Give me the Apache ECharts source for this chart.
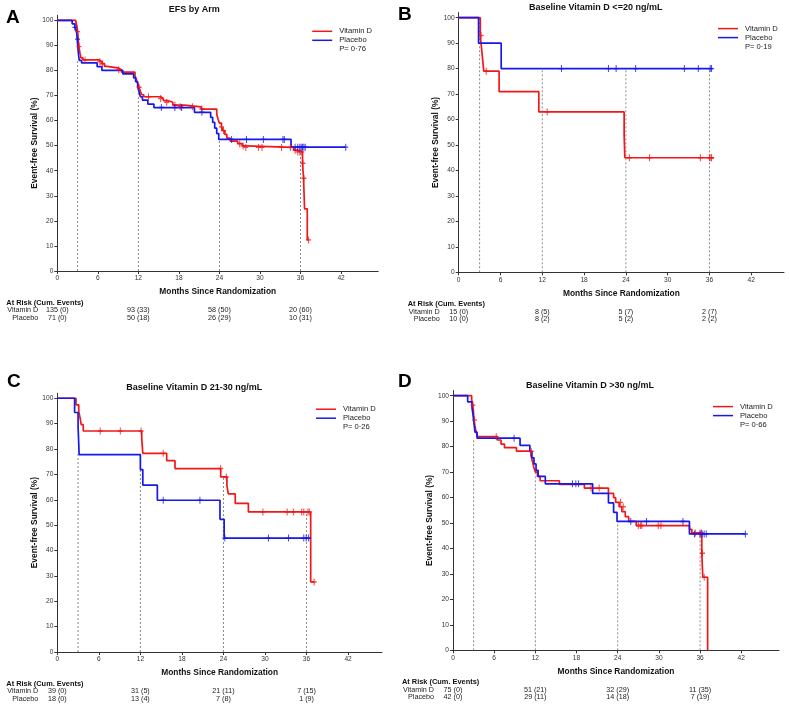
<!DOCTYPE html>
<html><head><meta charset="utf-8">
<script src="https://cdn.jsdelivr.net/npm/echarts@6/dist/echarts.min.js"></script>
<style>html,body{margin:0;padding:0;background:#fff}#c{width:789px;height:705px}</style>
</head><body><div id="c"></div>
<script>
// ---------- shared labels ----------
const monthTicks = [0, 6, 12, 18, 24, 30, 36, 42];
const survTicks = [0, 10, 20, 30, 40, 50, 60, 70, 80, 90, 100];
const atRiskMonths = [0, 12, 24, 36];
const panelLetters = ['A', 'B', 'C', 'D'];
const panelTitles = ['EFS by Arm', 'Baseline Vitamin D <=20 ng/mL', 'Baseline Vitamin D 21-30 ng/mL', 'Baseline Vitamin D >30 ng/mL'];
const pValues = ['P= 0·76', 'P= 0·19', 'P= 0·26', 'P= 0·66'];
const armNames = ['Vitamin D', 'Placebo'];

// ---------- Panel A ----------
const aVitD = [[0,100],[2.7,99.3],[2.9,97.8],[3.0,95.5],[3.1,92.5],[3.2,89.5],[3.35,87],[3.5,85],[3.8,84.2],[6.2,83.5],[6.6,82.7],[7.0,81.6],[7.4,80.9],[9.1,80.3],[9.5,79.3],[11.5,78],[11.7,76.4],[11.9,74.8],[12.1,73.3],[12.3,71.7],[12.5,70.3],[12.8,69.5],[15.3,68.8],[15.7,68],[16.3,67.3],[17.1,66.2],[18.8,65.5],[21.3,64.6],[23.6,62.5],[23.8,60.5],[24.0,59],[24.3,57.5],[24.5,56],[24.8,54.5],[25.1,53],[25.6,51.8],[26.7,50.8],[27.4,49.9],[27.8,49.3],[35.0,48.2],[35.4,47.5],[36.3,43],[36.45,37],[36.6,24.8],[37.0,12.4],[37.2,12.4]];
const aVitDCens = [[3.0,95.5],[3.2,89.5],[4.1,84.2],[6.3,83.5],[6.7,82.7],[9.1,80.3],[12.1,73.3],[13.5,69.5],[15.3,68.8],[16.2,67.3],[17.4,66.2],[18.2,65.5],[20.0,65.5],[21.4,64.6],[24.3,57.5],[24.6,56],[27.0,50.8],[27.5,49.9],[27.9,49.3],[29.8,49.3],[30.3,49.3],[33.2,49.3],[34.5,49.3],[35.2,48.2],[35.6,47.5],[35.9,47.5],[36.2,47.5],[36.35,43],[36.5,37],[37.2,12.4]];
const aPlac = [[0,100],[2.2,98.6],[2.6,97.2],[2.85,95.7],[2.95,92.5],[3.05,89],[3.15,86],[3.25,84],[3.6,83],[5.9,81.5],[6.6,80],[9.7,78.6],[11.3,77],[11.6,75.5],[11.9,73.5],[12.1,71.5],[12.3,69.5],[12.6,68.2],[13.4,66.6],[14.3,65.2],[20.3,63.3],[22.7,61.3],[23.0,59.3],[23.3,57],[23.6,54.8],[23.9,52.5],[34.6,49.4],[42.7,49.4]];
const aPlacCens = [[2.6,97.2],[3.0,92.5],[15.4,65.2],[17.4,65.2],[18.4,65.2],[21.4,63.3],[25.8,52.5],[28.0,52.5],[30.5,52.5],[33.4,52.5],[33.6,52.5],[35.2,49.4],[35.6,49.4],[35.9,49.4],[36.1,49.4],[36.3,49.4],[36.5,49.4],[36.7,49.4],[42.7,49.4]];
const aRefs = [[3,84],[12,73],[24,52.5],[36,47.5]];
const aRiskVitD = ['135 (0)', '93 (33)', '58 (50)', '20 (60)'];
const aRiskPlac = ['71 (0)', '50 (18)', '26 (29)', '10 (31)'];

// ---------- Panel B ----------
const bVitD = [[0,100],[3.1,93],[3.35,86],[3.6,79],[5.8,71],[11.5,63],[23.75,54],[23.85,45],[36.6,45]];
const bVitDCens = [[3.2,93],[3.95,79],[12.7,63],[24.5,45],[27.4,45],[34.7,45],[36.0,45],[36.2,45],[36.3,45]];
const bPlac = [[0,100],[2.85,90],[6.1,80],[36.4,80]];
const bPlacCens = [[14.75,80],[21.5,80],[22.6,80],[25.4,80],[32.4,80],[34.4,80],[36.1,80],[36.3,80]];
const bRefs = [[3,100],[12,80],[24,80],[36,80]];
const bRiskVitD = ['15 (0)', '8 (5)', '5 (7)', '2 (7)'];
const bRiskPlac = ['10 (0)', '8 (2)', '5 (2)', '2 (2)'];

// ---------- Panel C ----------
const cVitD = [[0,100],[2.7,97.4],[3.1,94.8],[3.3,92.2],[3.45,89.6],[3.75,87.1],[12.2,84],[12.35,78.3],[15.8,75.4],[17.0,72.3],[23.6,69],[24.5,65.6],[24.7,62.3],[25.7,58.6],[27.6,55.2],[36.6,27.6],[37.1,27.6]];
const cVitDCens = [[6.2,87.1],[9.1,87.1],[12.1,87.1],[15.3,78.3],[23.6,72.3],[24.4,69],[29.7,55.2],[33.2,55.2],[34.1,55.2],[35.3,55.2],[35.6,55.2],[36.2,55.2],[36.4,55.2],[37.1,27.6]];
const cPlac = [[0,100],[2.5,94.4],[3.0,88.9],[3.08,83.3],[3.15,77.8],[12.0,71.9],[12.35,65.8],[14.45,59.8],[23.5,52.3],[24.1,44.9],[36.5,44.9]];
const cPlacCens = [[15.3,59.8],[20.6,59.8],[24.2,44.9],[30.5,44.9],[33.4,44.9],[35.6,44.9],[35.95,44.9],[36.3,44.9]];
const cRefs = [[3,78],[12,78],[24,69],[36,55.2]];
const cRiskVitD = ['39 (0)', '31 (5)', '21 (11)', '7 (15)'];
const cRiskPlac = ['18 (0)', '13 (4)', '7 (8)', '1 (9)'];

// ---------- Panel D ----------
const dVitD = [[0,100],[2.72,98.3],[2.87,96.3],[2.96,94.4],[3.06,90.4],[3.2,88.1],[3.35,85.9],[3.6,83.9],[6.45,82.6],[7.0,81.0],[7.5,79.6],[9.25,78.2],[11.35,76.6],[11.5,75],[11.65,73.3],[11.8,71.6],[12.0,70],[12.3,68.3],[12.7,66.6],[15.5,65.2],[19.15,63.7],[22.65,61.6],[23.4,60],[23.7,58.1],[24.2,56.4],[24.6,54.5],[25.1,52.5],[25.6,50.6],[26.7,49],[34.45,47.5],[34.8,46.1],[36.25,38.1],[36.4,28.7],[37.1,0]];
const dVitDCens = [[2.9,96.3],[3.15,90.4],[6.3,83.9],[11.4,78.2],[20.1,63.7],[21.3,63.7],[24.4,58.1],[24.8,56.4],[27.0,49],[27.3,49],[27.5,49],[29.9,49],[30.3,49],[35.3,46.1],[36.0,46.1],[36.2,46.1],[36.35,38.1],[36.6,28.7]];
const dPlac = [[0,100],[2.14,97.6],[2.77,95.2],[2.9,92.9],[3.0,90.5],[3.1,88.1],[3.2,85.7],[3.5,83.3],[9.77,80.5],[11.2,78.1],[11.5,75.6],[11.8,73.2],[12.1,70.7],[12.4,68.3],[13.45,65.4],[20.35,61.6],[22.65,57.9],[23.4,54.2],[23.9,50.6],[34.45,45.7],[42.6,45.7]];
const dPlacCens = [[8.9,83.3],[17.4,65.4],[17.9,65.4],[18.3,65.4],[25.9,50.6],[28.2,50.6],[33.5,50.6],[35.2,45.7],[36.0,45.7],[36.3,45.7],[36.6,45.7],[36.9,45.7],[42.6,45.7]];
const dRefs = [[3,83.4],[12,70],[24,50.6],[36,46]];
const dRiskVitD = ['75 (0)', '51 (21)', '32 (29)', '11 (35)'];
const dRiskPlac = ['42 (0)', '29 (11)', '14 (18)', '7 (19)'];

// ---------- assembly ----------
const panels = [
  { vit: aVitD, vitC: aVitDCens, pla: aPlac, plaC: aPlacCens, refs: aRefs, rv: aRiskVitD, rp: aRiskPlac },
  { vit: bVitD, vitC: bVitDCens, pla: bPlac, plaC: bPlacCens, refs: bRefs, rv: bRiskVitD, rp: bRiskPlac },
  { vit: cVitD, vitC: cVitDCens, pla: cPlac, plaC: cPlacCens, refs: cRefs, rv: cRiskVitD, rp: cRiskPlac },
  { vit: dVitD, vitC: dVitDCens, pla: dPlac, plaC: dPlacCens, refs: dRefs, rv: dRiskVitD, rp: dRiskPlac }
];
const layouts = [
  { left: 57.3, top: 15.3, width: 320.9, height: 255.7, xMax: 47.5 },
  { left: 458.7, top: 12.6, width: 325.3, height: 259.7, xMax: 46.7 },
  { left: 57.3, top: 393.2, width: 324.7, height: 258.8, xMax: 46.9 },
  { left: 453, top: 390.6, width: 326, height: 259.7, xMax: 47.5 }
];
const RED = '#f01818', BLUE = '#1818e8', FONT = 'Liberation Sans, Arial, sans-serif';
const plusSym = 'path://M4,0h2v10h-2zM0,4h10v2h-10z';

const grid = [], xAxis = [], yAxis = [], series = [];
layouts.forEach((L, i) => {
  grid.push({ left: L.left, top: L.top, width: L.width, height: L.height, containLabel: false });
  xAxis.push({
    type: 'value', gridIndex: i, min: 0, max: L.xMax,
    name: 'Months Since Randomization', nameLocation: 'middle', nameGap: 17,
    nameTextStyle: { fontFamily: FONT, fontWeight: 'bold', fontSize: 8.4, color: '#111' },
    axisLine: { lineStyle: { color: '#333', width: 1 } },
    axisTick: { length: 3, customValues: monthTicks, lineStyle: { color: '#333' } },
    axisLabel: { customValues: monthTicks, fontFamily: FONT, fontSize: 6.6, color: '#333', margin: 4 },
    splitLine: { show: false }
  });
  yAxis.push({
    type: 'value', gridIndex: i, min: 0, max: 102,
    name: 'Event-free Survival (%)', nameLocation: 'middle', nameGap: 18,
    nameTextStyle: { fontFamily: FONT, fontWeight: 'bold', fontSize: 8.4, color: '#111' },
    axisLine: { show: true, lineStyle: { color: '#333', width: 1 } },
    axisTick: { show: true, length: 3, customValues: survTicks, lineStyle: { color: '#333' } },
    axisLabel: { customValues: survTicks, fontFamily: FONT, fontSize: 6.6, color: '#333', margin: 4 },
    splitLine: { show: false }
  });
  const P = panels[i];
  P.refs.forEach(([m, v]) => {
    series.push({ type: 'line', xAxisIndex: i, yAxisIndex: i, data: [[m, 0], [m, v]], showSymbol: false, silent: true, z: 1,
      lineStyle: { color: '#8a8a8a', width: 1, type: [2, 2] } });
  });
  series.push({ name: armNames[0], type: 'line', step: 'end', xAxisIndex: i, yAxisIndex: i, data: P.vit, showSymbol: false, z: 2,
    lineStyle: { color: RED, width: 1.7 }, itemStyle: { color: RED } });
  series.push({ name: armNames[1], type: 'line', step: 'end', xAxisIndex: i, yAxisIndex: i, data: P.pla, showSymbol: false, z: 3,
    lineStyle: { color: BLUE, width: 1.7 }, itemStyle: { color: BLUE } });
  series.push({ name: armNames[0] + ' censored', type: 'scatter', xAxisIndex: i, yAxisIndex: i, data: P.vitC, symbol: plusSym, symbolSize: [5, 7], z: 4,
    itemStyle: { color: RED } });
  series.push({ name: armNames[1] + ' censored', type: 'scatter', xAxisIndex: i, yAxisIndex: i, data: P.plaC, symbol: plusSym, symbolSize: [5, 7], z: 5,
    itemStyle: { color: BLUE } });
});

const chart = echarts.init(document.getElementById('c'), null, { renderer: 'canvas' });
chart.setOption({ animation: false, backgroundColor: '#fff', grid, xAxis, yAxis, series });

// ---------- text, legend, at-risk table ----------
const graphic = [];
const txt = (x, y, text, o) => graphic.push({ type: 'text', x, y, silent: true,
  style: Object.assign({ text, fontFamily: FONT, fontSize: 7.2, fill: '#222', align: 'left', verticalAlign: 'middle' }, o || {}) });
const letterPos = [[6, 18], [398, 15], [7, 382], [398, 382]];
layouts.forEach((L, i) => {
  const right = L.left + L.width, bottom = L.top + L.height;
  txt(letterPos[i][0], letterPos[i][1], panelLetters[i], { fontSize: 19, fontWeight: 'bold', fill: '#000' });
  txt(L.left + 137, L.top - 5.5, panelTitles[i], { fontSize: 9, fontWeight: 'bold', fill: '#111', align: 'center' });
  // legend
  [RED, BLUE].forEach((c, k) => {
    const y = L.top + 16 + k * 9;
    graphic.push({ type: 'line', silent: true, shape: { x1: right - 66, y1: y, x2: right - 46, y2: y }, style: { stroke: c, lineWidth: 1.5 } });
    txt(right - 39, y, armNames[k], { fontSize: 7.6 });
  });
  txt(right - 39, L.top + 34, pValues[i], { fontSize: 7.6 });
  // at-risk table
  txt(L.left - 51, bottom + 31.5, 'At Risk (Cum. Events)', { fontSize: 7.4, fontWeight: 'bold', fill: '#111' });
  txt(L.left - 19, bottom + 39.3, armNames[0], { align: 'right' });
  txt(L.left - 19, bottom + 47, armNames[1], { align: 'right' });
  atRiskMonths.forEach((m, j) => {
    const px = chart.convertToPixel({ gridIndex: i }, [m, 0])[0];
    txt(px, bottom + 39.3, panels[i].rv[j], { align: 'center' });
    txt(px, bottom + 47, panels[i].rp[j], { align: 'center' });
  });
});
chart.setOption({ graphic });
</script></body></html>
